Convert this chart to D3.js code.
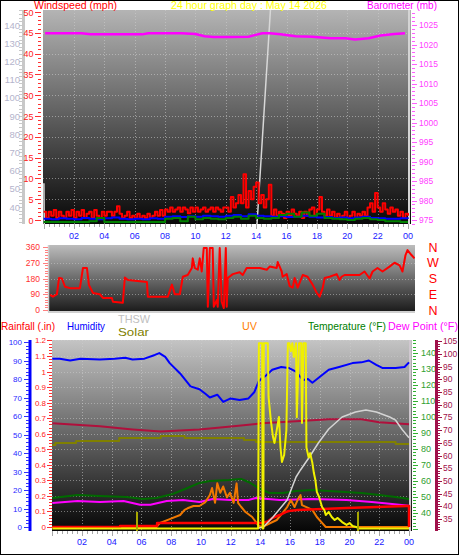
<!DOCTYPE html>
<html><head><meta charset="utf-8">
<script src="https://cdn.jsdelivr.net/npm/d3@7"></script>
<style>body{margin:0;background:#fff}svg{display:block}text{font-family:"Liberation Sans",Arial,sans-serif}</style>
</head><body><svg id="c" width="459" height="555"></svg>
<script>
// ---------------- DATA ----------------
const hourTicks = [2,4,6,8,10,12,14,16,18,20,22,24];
const hourLabels = ["02","04","06","08","10","12","14","16","18","20","22","00"];
const greyTicks = [40,50,60,70,80,90,100,110,120,130,140];
const windTicks = [0,5,10,15,20,25,30,35,40,45,50];
const baroTicks = [975,980,985,990,995,1000,1005,1010,1015,1020,1025];
const dirTicks = [0,90,180,270,360];
const compass = ["N","E","S","W","N"];
const humTicks = [0,10,20,30,40,50,60,70,80,90,100];
const rainTicks = [0,0.1,0.2,0.3,0.4,0.5,0.6,0.7,0.8,0.9,1,1.1,1.2];
const tempTicks = [40,50,60,70,80,90,100,110,120,130,140];
const dewTicks = [35,40,45,50,55,60,65,70,75,80,85,90,95,100,105];

// wind gust (mph), every 10 minutes
const windGust = [
2,0.5,2,1,2.4,0.5, 2,1,0.5,2,1,2.4, 0.5,2,1,2.4,0.5,1.5, 2,0.5,2.4,1,0.5,2,
1,2,2,1,2,3.3, 1.5,0.5,1,2,0.5,1, 0.5,1.5,0.5,1,0.5,1.5, 0.5,1,2,1,2.4,1,
2.5,2,3,2,2.5,3, 2,3,2.5,1.6,3,2, 3,2,2.5,3,2,2.5, 3,2,3,2.5,2,3,
3,2,5.5,3,4,6, 4,11,3,7,5,8, 9,4,6,3,5,8.5, 1,2.5,1,2,1.5,0.5,
2,1,2.5,1.5,1,2, 0.5,2,1,2.5,3,1, 2.5,5.5,2,1,2.5,1, 2,0.5,1.5,0.5,1,2,
0.5,1,2,0.5,1.5,1, 2,1,3,4,2,6.5, 3,2,4,2.5,1.5,3, 2,2.5,1,2,0.5,1.5, 1];
// average wind (mph), every 30 minutes
const windAvg = [0.3,0.2,0.4,0.3,0.2,0.5,0.3,0.2,0.4,0.6,0.3,0.2,0.3,0.2,0.4,0.3,
 0.8,0.9,0.7,0.9,0.8,1.0,0.9,0.8,1.0,1.2,0.9,1.4,1.0,0.9,0.8,0.9,
 0.7,0.8,1.0,0.8,0.6,0.7,0.5,0.6,0.4,0.6,0.8,0.5,0.4,0.3,0.3,0.4,0.3];
// third wind trace (mph), every 30 minutes
const windLow = [-0.5,-0.5,-0.5,-0.5,-0.5,-0.5,-0.3,0.5,-0.5,-0.5,-0.5,-0.5,-0.5,-0.5,-0.5,-0.5,
 0.3,0.5,-0.3,0.8,0.2,0.5,0.3,0.2,0.5,0.8,0.3,1.0,0.5,0.3,0.5,1.2,
 1.5,0.8,1.8,1.0,1.5,0.5,0.3,0.2,0,0.3,0.5,0.2,0,-0.3,-0.3,-0.5,-0.5];
// barometer [hour, mb]
const baro = [[0.1,1022.9],[2.5,1022.9],[3.1,1022.6],[6.5,1022.6],[6.9,1022.9],[9.1,1022.9],[10,1022.7],[10.6,1022.1],
 [11.2,1021.9],[12.3,1021.9],[13.5,1022.0],[13.9,1022.4],[14.4,1022.9],[14.9,1022.9],[15.6,1022.6],[16.6,1022.1],
 [17.7,1022.0],[18.9,1021.6],[19.9,1021.6],[20.5,1021.3],[21.4,1021.6],[22.2,1022.3],[23.1,1022.7],[23.8,1022.9]];
// grey trace, top chart [hour, value on grey axis]
const greyTop = [[0.02,53],[0.04,31.5],[0.06,25],[14.0,25],[14.06,31.2],[14.94,148.2],[15.1,175]];
// wind direction [hour, degrees]
const windDir = [[0.07,86],[0.26,76],[0.52,90],[0.66,183],[0.85,180],[1.05,133],[1.38,125],[2.03,125],[2.23,240],[2.49,240],
 [2.62,143],[2.89,97],[3.34,90],[3.54,69],[4.13,69],[4.2,47],[4.85,42],[4.98,185],[5.18,171],[6.43,160],[6.49,76],[7.8,76],
 [8.07,145],[8.26,90],[8.59,90],[8.79,190],[9.11,200],[9.38,240],[9.44,295],[9.57,240],[9.77,230],[9.9,295],[10.03,220],
 [10.16,354],[10.36,354],[10.43,19],[10.56,354],[10.75,354],[10.82,19],[11.02,57],[11.08,19],[11.21,354],[11.34,47],
 [11.48,11],[11.61,354],[11.67,19],[11.74,183],[12.07,205],[12.52,216],[12.72,200],[12.98,240],[13.84,240],[14.3,230],
 [14.49,248],[14.95,240],[15.02,274],[15.28,220],[15.34,190],[15.61,205],[15.8,137],[16.0,128],[16.13,183],[16.33,128],
 [16.66,200],[16.98,190],[17.31,145],[17.57,100],[17.77,76],[17.97,125],[18.1,183],[18.43,190],[18.89,205],[19.08,171],
 [19.21,190],[19.41,200],[20.39,200],[20.72,220],[21.05,180],[21.25,220],[21.57,240],[21.9,220],[22.36,248],[22.69,270],
 [23.02,255],[23.21,220],[23.41,314],[23.54,342],[23.8,314],[24.0,295]];
// bottom chart series [hour, value]
const humidity = [[0,91],[0.5,91],[1.2,90],[1.9,91],[3.2,90.5],[4.2,91],[4.9,91.5],[5.4,90.5],[6.2,91],[6.9,93],[7.2,94],
 [7.6,92],[7.9,88.6],[8.6,83],[9.3,76],[9.9,74.5],[10.3,72],[10.6,70],[11.1,71.5],[11.5,67.6],[12,69.5],[12.6,68.6],
 [13.2,69.5],[13.6,73],[13.9,79],[14.4,82],[14.8,85],[15.4,86.5],[15.9,86],[16.4,84],[16.7,81],[16.9,79.5],[17.2,80],
 [17.5,78],[17.9,80.5],[18.6,85],[19.3,86.5],[20.2,88.6],[20.8,89],[21.3,90],[21.8,87.6],[22.2,86],[23.1,86],[23.7,86.5],[24,89]];
const insideTemp = [[0,72.7],[3.2,71.5],[5.4,70.3],[7.3,69.5],[9.9,70.3],[12.2,71.5],[14.1,72.7],[16.4,73.5],[18.6,74.3],
 [20.8,74.3],[22,73.1],[24,72.3]];
const insideHum = [[0,44.3],[0.2,45.4],[1.6,46.5],[4.5,48.1],[7.3,49.2],[8.9,48.1],[12.9,47],[13.7,45.9],[23.1,44.9],[24,44.9]];
const temperature = [[0,49.4],[1.7,51.3],[3.2,50.6],[5,50],[6.1,48.8],[7,49.4],[8.1,51.9],[9.1,55.6],[9.9,58.8],[10.6,60],
 [11.9,60.6],[12.7,61.3],[13.2,59.4],[13.9,55.6],[14.6,52.5],[15.5,52.5],[16.4,53.75],[17.5,54.4],[18.6,53.75],[20.8,52.5],
 [22,51.3],[23.1,50],[24,48.75]];
const dewPoint = [[0,41.3],[1.7,42.1],[3.2,41.7],[4.8,42.1],[5.9,40.6],[6.6,40.6],[7.7,42.1],[8.8,42.5],[9.9,41.7],[10.8,42.9],
 [12,42.5],[13.2,42.5],[13.7,43.3],[15.3,42.5],[17.5,42.9],[19.8,42.5],[21.5,41.7],[22.7,41],[24,40.2]];
const uv = [[0,0],[7,0],[7.25,0.26],[7.9,0.51],[8.6,0.77],[8.9,1.1],[9.1,1.2],[9.5,1.35],[9.9,1.35],[10.3,1.6],[10.6,2.05],
 [10.75,2.5],[10.95,1.55],[11.1,2.8],[11.3,2.2],[11.5,2.6],[11.75,1.9],[11.95,2.2],[12.2,1.55],[12.4,2.8],[12.5,1.55],
 [12.7,1.3],[13,0.96],[13.45,0.64],[13.9,0.06],[14.2,0],[14.4,0.13],[15.1,0.45],[15.5,0.9],[15.8,1.28],[16.05,1.73],
 [16.3,1.28],[16.5,1.73],[16.7,2.05],[16.8,1.4],[17.1,1.28],[17.5,1.1],[17.8,0.64],[18.15,0.26],[18.4,0],[24,0]];
const rain = [[0,0],[4.56,0],[4.56,0.006],[7.05,0.006],[7.05,0.026],[14.1,0.026],[14.5,0.035],[14.8,0.058],[15.3,0.077],
 [15.7,0.096],[15.9,0.103],[16.5,0.11],[19.8,0.122],[23.8,0.135],[24,0.135],[24,0]];
const solar = [[0,0],[13.85,0],[13.9,983],[14.12,983],[14.15,0],[14.2,0],[14.23,983],[14.5,983],[14.55,698],[14.7,576],
 [14.85,485],[14.95,454],[15.1,522],[15.25,592],[15.35,432],[15.45,353],[15.6,390],[15.75,522],[15.85,983],[15.95,983],
 [16.05,940],[16.15,983],[16.25,910],[16.4,983],[16.45,590],[16.6,983],[16.75,983],[16.8,560],[16.9,983],[17.05,983],
 [17.1,430],[17.25,377],[17.35,400],[17.5,347],[17.6,294],[17.7,257],[17.8,194],[17.95,167],[18.05,141],[18.15,114],
 [18.3,98],[18.4,72],[18.6,88],[18.8,61],[19,45],[19.2,56],[19.5,34],[19.8,19],[20,29],[20.2,13],[20.45,8],[20.6,0],[24,0]];
const thsw = [[13.9,30.6],[14.2,31.25],[14.85,37.5],[15.8,48.1],[16.4,62.5],[16.7,66.9],[17.3,75],[17.9,83.75],[18.6,92.5],
 [19.5,100],[20.4,103.1],[21.1,104.4],[21.8,103.1],[22.7,100],[23.1,98],[23.55,92],[24,87]];
const sunMarks = [5.7, 20.57];

// ---------------- DRAW ----------------
const svg = d3.select("#c");
const defs = svg.append("defs");
function vGrad(id, c0, c1){const g=defs.append("linearGradient").attr("id",id).attr("x1",0).attr("y1",0).attr("x2",0).attr("y2",1);
 g.append("stop").attr("offset",0).attr("stop-color",c0); g.append("stop").attr("offset",1).attr("stop-color",c1);}
vGrad("gTop","#b4b4b4","#080808"); vGrad("gDir","#bcbcbc","#1a1a1a"); vGrad("gBot","#c4c4c4","#060606");
function clip(id,x,y,w,h){defs.append("clipPath").attr("id",id).append("rect").attr("x",x).attr("y",y).attr("width",w).attr("height",h);}
function line(g,pts,x,y,color,w,curve){g.append("path").datum(pts).attr("fill","none").attr("stroke",color).attr("stroke-width",w)
 .attr("stroke-linejoin","round").attr("d",d3.line().x(d=>x(d[0])).y(d=>y(d[1])).curve(curve||d3.curveLinear));}
function txt(g,s,x,y,color,size,anchor,len){const t=g.append("text").attr("x",x).attr("y",y).attr("fill",color).attr("font-size",size).text(s);
 if(anchor)t.attr("text-anchor",anchor); if(len)t.attr("textLength",len).attr("lengthAdjust","spacingAndGlyphs"); return t;}
function hline(g,x1,x2,y,c,w,dash){const l=g.append("line").attr("x1",x1).attr("x2",x2).attr("y1",y).attr("y2",y).attr("stroke",c).attr("stroke-width",w||1); if(dash)l.attr("stroke-dasharray",dash); return l;}
function vline(g,x,y1,y2,c,w,dash){const l=g.append("line").attr("x1",x).attr("x2",x).attr("y1",y1).attr("y2",y2).attr("stroke",c).attr("stroke-width",w||1); if(dash)l.attr("stroke-dasharray",dash); return l;}
const range = (a,b,s)=>d3.range(a,b+s/2,s);

// ===== TOP PANEL =====
const T={x0:43,x1:411,y0:10,y1:224};
const xTop=d3.scaleLinear([0,24],[43.6,408]);
const yWind=d3.scaleLinear([0,50],[220,12]);
const yBaro=d3.scaleLinear([975,1025],[220,25]);
const yGrey=d3.scaleLinear([40,140],[207,25]);
clip("cTop",T.x0,T.y0,T.x1-T.x0,T.y1-T.y0);
clip("cTopL",0,10,459,240);
svg.append("rect").attr("x",T.x0).attr("y",T.y0).attr("width",T.x1-T.x0).attr("height",T.y1-T.y0).attr("fill","url(#gTop)");
const gt=svg.append("g").attr("clip-path","url(#cTop)");
windTicks.slice(1,-1).forEach(v=>hline(gt,T.x0,T.x1,Math.round(yWind(v))+0.5,"#d0d0d0",1,"1,2").attr("stroke-opacity",0.55));
hourTicks.slice(0,-1).forEach(h=>vline(gt,Math.round(xTop(h))+0.5,T.y0,T.y1,"#d0d0d0",1,"1,2").attr("stroke-opacity",0.55));
vline(gt,xTop(24)+1,T.y0,T.y1,"#d4d4d4",2);
line(gt,greyTop,xTop,yGrey,"#d8d8d8",1.5);
line(gt,windGust.map((v,i)=>[i/6,v]),xTop,yWind,"#ff0000",2,d3.curveStepAfter);
line(gt,windAvg.map((v,i)=>[i/2,v]),xTop,yWind,"#0000ff",2,d3.curveStepAfter);
line(gt,windLow.map((v,i)=>[i/2,v]),xTop,yWind,"#008000",2,d3.curveStepAfter);
line(gt,baro,xTop,yBaro,"#ff00ff",2.5);
// top axes
const ga=svg.append("g").attr("clip-path","url(#cTopL)");
vline(ga,23.5,T.y0,T.y1,"#c8c8c8",3);
range(32,148,2).forEach(v=>hline(ga,19,22,Math.round(yGrey(v))+0.5,"#c8c8c8",1));
greyTicks.forEach(v=>txt(ga,v,20,yGrey(v)+3.5,"#b4b4cc",9.5,"end"));
range(0,50,1).forEach(v=>hline(ga,v%5?38:35,41,Math.round(yWind(v))+0.5,"#ff3030",1));
windTicks.forEach(v=>txt(ga,v,33.5,yWind(v)+3.5,"#ff2020",9,"end"));
range(974,1028,1).forEach(v=>hline(ga,412,v%5?415:417,Math.round(yBaro(v))+0.5,"#ff60ff",1));
baroTicks.forEach(v=>txt(ga,v,419,yBaro(v)+3,"#ff40ff",8.5,"start"));
range(0,24,1/3).forEach(h=>vline(svg,Math.round(xTop(h))+0.5,224,Math.abs(h%2)<0.01?229:227,"#a8a8a8",1));
hourTicks.forEach((h,i)=>txt(svg,hourLabels[i],xTop(h),239,"#2020ff",9,"middle"));

// ===== WIND DIRECTION PANEL =====
const D={x0:48,x1:415,y0:245,y1:312};
const xDir=d3.scaleLinear([0,24],[49,414.5]);
const yDir=d3.scaleLinear([0,360],[310,247]);
clip("cDir",D.x0,D.y0,D.x1-D.x0,D.y1-D.y0);
svg.append("rect").attr("x",D.x0).attr("y",D.y0).attr("width",D.x1-D.x0).attr("height",D.y1-D.y0).attr("fill","url(#gDir)");
const gd=svg.append("g").attr("clip-path","url(#cDir)");
[90,180,270].forEach(v=>hline(gd,D.x0,D.x1,Math.round(yDir(v))+0.5,"#d0d0d0",1,"1,2").attr("stroke-opacity",0.5));
line(gd,windDir,xDir,yDir,"#ff0000",2);
hline(svg,D.x0,D.x1,D.y1,"#d0d0d0",2);
vline(svg,D.x0+0.5,D.y0,D.y1,"#d0d0d0",1.5);
range(0,360,15).forEach(v=>hline(svg,v%90?45:43,48,Math.round(yDir(v))+0.5,"#ff8080",1));
dirTicks.forEach(v=>txt(svg,v,40,yDir(v)+3,"#ff3030",8.5,"end"));
dirTicks.forEach((v,i)=>txt(svg,compass[i],433,yDir(v)+4.5,"#ff0000",12.5,"middle"));

// ===== BOTTOM PANEL =====
const B={x0:52,x1:412,y0:340,y1:531};
const xBot=d3.scaleLinear([0,24],[52.3,409]);
const yHum=d3.scaleLinear([0,100],[527,342]);
const yRain=d3.scaleLinear([0,1.1],[527,356]);
const yTemp=d3.scaleLinear([40,140],[513,353]);
const yDew=d3.scaleLinear([35,100],[519,354]);
const yUV=d3.scaleLinear([0,12],[527,340]);
const ySolar=d3.scaleLinear([0,1000],[528.5,340]);
clip("cBot",B.x0,B.y0,B.x1-B.x0,B.y1-B.y0);
clip("cBotL",0,338,459,217);
svg.append("rect").attr("x",B.x0).attr("y",B.y0).attr("width",B.x1-B.x0).attr("height",B.y1-B.y0).attr("fill","url(#gBot)");
const gb=svg.append("g").attr("clip-path","url(#cBot)");
rainTicks.slice(1).forEach(v=>hline(gb,B.x0,B.x1,Math.round(yRain(v))+0.5,"#d0d0d0",1,"1,2").attr("stroke-opacity",0.5));
hourTicks.slice(0,-1).forEach(h=>vline(gb,Math.round(xBot(h))+0.5,B.y0,B.y1,"#d0d0d0",1,"1,2").attr("stroke-opacity",0.55));
vline(gb,xBot(24)+1,B.y0,B.y1,"#d0c8d0",2);
line(gb,insideTemp,xBot,yDew,"#b0103c",2);
line(gb,insideHum,xBot,yHum,"#808000",2,d3.curveStepAfter);
line(gb,temperature,xBot,yTemp,"#006a00",2);
line(gb,dewPoint,xBot,yDew,"#ff00ff",2);
line(gb,humidity,xBot,yHum,"#0000ff",2);
line(gb,uv,xBot,yUV,"#f07800",2);
line(gb,rain,xBot,yRain,"#ff0000",2.5);
line(gb,thsw,xBot,yTemp,"#d4d4d4",1.5);
line(gb,solar,xBot,ySolar,"#f0f000",2);
sunMarks.forEach(h=>vline(gb,xBot(h),B.y1,ySolar(88),"#a8a800",2));
// bottom axes
const gl=svg.append("g").attr("clip-path","url(#cBotL)");
vline(gl,30,B.y0,B.y1,"#0000ff",3);
range(0,100,2).forEach(v=>hline(gl,v%10?26:24,29,Math.round(yHum(v))+0.5,"#3030ff",1));
humTicks.forEach(v=>txt(gl,v,22,yHum(v)+3,"#2828ff",8,"end"));
range(0,1.2,0.02).forEach((v,i)=>hline(gl,i%5?49:47,52,Math.round(yRain(v))+0.5,"#ff3030",1));
rainTicks.forEach(v=>txt(gl,d3.format("~g")(+v.toFixed(1)),46,yRain(v)+3,"#ff2020",8,"end"));
range(30,148,2).forEach(v=>hline(gl,413,v%10?416:418,Math.round(yTemp(v))+0.5,"#30b030",1));
tempTicks.forEach(v=>txt(gl,v,421,yTemp(v)+3,"#30a030",9,"start"));
vline(gl,436.5,B.y0,B.y1,"#a0104a",3);
range(31,105,1).forEach(v=>hline(gl,438,v%5?440:442,Math.round(yDew(v))+0.5,"#a0104a",1));
dewTicks.forEach(v=>txt(gl,v,443,yDew(v)+3,"#a0104a",8.5,"start"));
range(0,24,1/3).forEach(h=>vline(svg,Math.round(xBot(h))+0.5,531,Math.abs(h%2)<0.01?536:534,"#a8a8a8",1));
hourTicks.forEach((h,i)=>txt(svg,hourLabels[i],xBot(h),545,"#2020ff",9,"middle"));

// ===== TITLES =====
txt(svg,"Windspeed (mph)",34,9,"#ff0000",11,null,83);
txt(svg,"24 hour graph day : May 14 2026",171,9,"#ffff00",11,null,156);
txt(svg,"Barometer (mb)",367,9,"#ff00ff",11,null,70);
txt(svg,"Rainfall (.in)",1,330,"#ff0000",11,null,54);
txt(svg,"Humidity",67,330,"#0000ff",11,null,38);
txt(svg,"THSW",118,323,"#c0c0c0",11,null,32);
txt(svg,"Solar",118,336,"#808000",11,null,31);
txt(svg,"UV",242,330,"#ff8000",11,null,15);
txt(svg,"Temperature (°F)",308,330,"#008000",11,null,78);
txt(svg,"Dew Point (°F)",388,330,"#ff00ff",11,null,70);

svg.append("rect").attr("x",0.5).attr("y",0.5).attr("width",458).attr("height",554).attr("fill","none").attr("stroke","#000").attr("stroke-width",1);
</script></body></html>
